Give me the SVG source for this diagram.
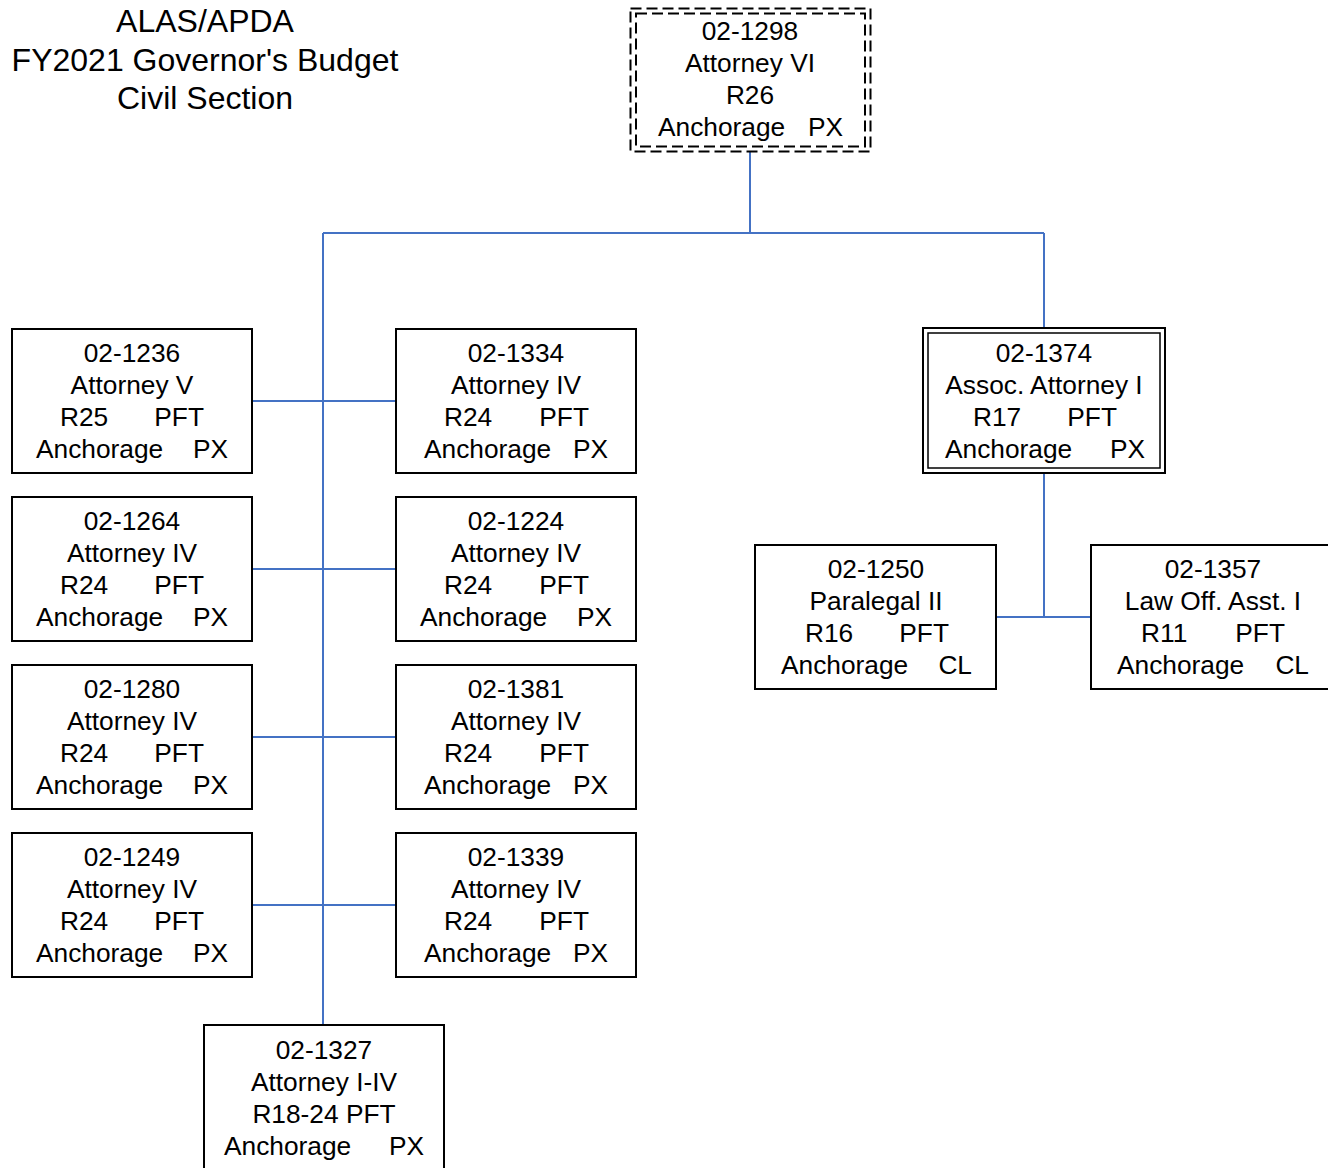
<svg xmlns="http://www.w3.org/2000/svg" width="1328" height="1168" viewBox="0 0 1328 1168">
<style>
text{font-family:"Liberation Sans",Arial,sans-serif;font-size:26.3px;fill:#000}
.m{text-anchor:middle}.e{text-anchor:end}
.title{font-size:32px;text-anchor:middle}
.box{fill:#fff;stroke:#000;stroke-width:2}
.dash{fill:none;stroke:#000;stroke-width:2;stroke-dasharray:11 5}
.thin{fill:none;stroke:#000;stroke-width:1.5}
#connectors path{fill:none;stroke:#4472C4;stroke-width:2}
</style>
<rect width="1328" height="1168" fill="#fff"/>
<g id="title">
<text class="title" x="205" y="32">ALAS/APDA</text>
<text class="title" x="205" y="71">FY2021 Governor's Budget</text>
<text class="title" x="205" y="109">Civil Section</text>
</g>
<g id="connectors">
<path d="M750 152V233M323 233H1044M323 233V1025M1044 233V328"/>
<path d="M252 401H396M252 569H396M252 737H396M252 905H396"/>
<path d="M1044 473V617M996 617H1091"/>
</g>
<g id="n1298">
<rect x="630.5" y="8.5" width="240" height="143" fill="#fff"/>
<rect class="dash" x="630.5" y="8.5" width="240" height="143"/>
<rect class="dash" x="636" y="13.5" width="229" height="133"/>
<text class="m" x="750" y="40">02-1298</text>
<text class="m" x="750" y="72">Attorney VI</text>
<text class="m" x="750" y="104">R26</text>
<text x="658" y="136">Anchorage</text><text class="e" x="843" y="136">PX</text>
</g>
<g id="n1236">
<rect class="box" x="12" y="329" width="240" height="144"/>
<text class="m" x="132" y="362">02-1236</text>
<text class="m" x="132" y="394">Attorney V</text>
<text x="60" y="426">R25</text><text class="e" x="204" y="426">PFT</text>
<text x="36" y="458">Anchorage</text><text class="e" x="228" y="458">PX</text>
</g>
<g id="n1334">
<rect class="box" x="396" y="329" width="240" height="144"/>
<text class="m" x="516" y="362">02-1334</text>
<text class="m" x="516" y="394">Attorney IV</text>
<text x="444" y="426">R24</text><text class="e" x="589" y="426">PFT</text>
<text x="424" y="458">Anchorage</text><text class="e" x="608" y="458">PX</text>
</g>
<g id="n1264">
<rect class="box" x="12" y="497" width="240" height="144"/>
<text class="m" x="132" y="530">02-1264</text>
<text class="m" x="132" y="562">Attorney IV</text>
<text x="60" y="594">R24</text><text class="e" x="204" y="594">PFT</text>
<text x="36" y="626">Anchorage</text><text class="e" x="228" y="626">PX</text>
</g>
<g id="n1224">
<rect class="box" x="396" y="497" width="240" height="144"/>
<text class="m" x="516" y="530">02-1224</text>
<text class="m" x="516" y="562">Attorney IV</text>
<text x="444" y="594">R24</text><text class="e" x="589" y="594">PFT</text>
<text x="420" y="626">Anchorage</text><text class="e" x="612" y="626">PX</text>
</g>
<g id="n1280">
<rect class="box" x="12" y="665" width="240" height="144"/>
<text class="m" x="132" y="698">02-1280</text>
<text class="m" x="132" y="730">Attorney IV</text>
<text x="60" y="762">R24</text><text class="e" x="204" y="762">PFT</text>
<text x="36" y="794">Anchorage</text><text class="e" x="228" y="794">PX</text>
</g>
<g id="n1381">
<rect class="box" x="396" y="665" width="240" height="144"/>
<text class="m" x="516" y="698">02-1381</text>
<text class="m" x="516" y="730">Attorney IV</text>
<text x="444" y="762">R24</text><text class="e" x="589" y="762">PFT</text>
<text x="424" y="794">Anchorage</text><text class="e" x="608" y="794">PX</text>
</g>
<g id="n1249">
<rect class="box" x="12" y="833" width="240" height="144"/>
<text class="m" x="132" y="866">02-1249</text>
<text class="m" x="132" y="898">Attorney IV</text>
<text x="60" y="930">R24</text><text class="e" x="204" y="930">PFT</text>
<text x="36" y="962">Anchorage</text><text class="e" x="228" y="962">PX</text>
</g>
<g id="n1339">
<rect class="box" x="396" y="833" width="240" height="144"/>
<text class="m" x="516" y="866">02-1339</text>
<text class="m" x="516" y="898">Attorney IV</text>
<text x="444" y="930">R24</text><text class="e" x="589" y="930">PFT</text>
<text x="424" y="962">Anchorage</text><text class="e" x="608" y="962">PX</text>
</g>
<g id="n1327">
<rect class="box" x="204" y="1025" width="240" height="145"/>
<text class="m" x="324" y="1059">02-1327</text>
<text class="m" x="324" y="1091">Attorney I-IV</text>
<text class="m" x="324" y="1123">R18-24 PFT</text>
<text x="224" y="1155">Anchorage</text><text class="e" x="424" y="1155">PX</text>
</g>
<g id="n1374">
<rect class="box" x="923" y="328" width="242" height="145"/>
<rect class="thin" x="928" y="333" width="232" height="135"/>
<text class="m" x="1044" y="362">02-1374</text>
<text class="m" x="1044" y="394">Assoc. Attorney I</text>
<text x="973" y="426">R17</text><text class="e" x="1117" y="426">PFT</text>
<text x="945" y="458">Anchorage</text><text class="e" x="1145" y="458">PX</text>
</g>
<g id="n1250">
<rect class="box" x="755" y="545" width="241" height="144"/>
<text class="m" x="876" y="578">02-1250</text>
<text class="m" x="876" y="610">Paralegal II</text>
<text x="805" y="642">R16</text><text class="e" x="949" y="642">PFT</text>
<text x="781" y="674">Anchorage</text><text class="e" x="972" y="674">CL</text>
</g>
<g id="n1357">
<rect class="box" x="1091" y="545" width="240" height="144"/>
<text class="m" x="1213" y="578">02-1357</text>
<text class="m" x="1213" y="610">Law Off. Asst. I</text>
<text x="1141" y="642">R11</text><text class="e" x="1285" y="642">PFT</text>
<text x="1117" y="674">Anchorage</text><text class="e" x="1309" y="674">CL</text>
</g>
</svg>
